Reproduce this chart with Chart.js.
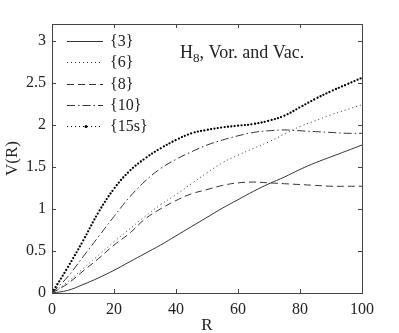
<!DOCTYPE html>
<html>
<head>
<meta charset="utf-8">
<script src="https://cdn.jsdelivr.net/npm/chart.js@4/dist/chart.umd.min.js"></script>
<style>
  html, body { margin: 0; padding: 0; background: #fff; }
  #wrap { width: 399px; height: 333px; }
</style>
</head>
<body>
<div id="wrap"><canvas id="c" width="399" height="333"></canvas></div>
<script>
// ---- data ----
const R      = [0, 5, 10, 15, 20, 25, 30, 35, 40, 45, 50, 55, 60, 65, 70, 75, 80, 85, 90, 95, 100];
const V3     = [0, 0.03, 0.10, 0.18, 0.27, 0.37, 0.47, 0.57, 0.68, 0.79, 0.90, 1.01, 1.11, 1.21, 1.30, 1.38, 1.47, 1.55, 1.62, 1.69, 1.76];
const V6     = [0, 0.13, 0.29, 0.45, 0.61, 0.76, 0.91, 1.05, 1.17, 1.30, 1.43, 1.55, 1.64, 1.72, 1.80, 1.89, 1.98, 2.05, 2.12, 2.18, 2.24];
const V8     = [0, 0.11, 0.26, 0.41, 0.57, 0.71, 0.88, 1.00, 1.10, 1.18, 1.23, 1.28, 1.31, 1.32, 1.31, 1.30, 1.29, 1.28, 1.27, 1.27, 1.27];
const V10    = [0, 0.19, 0.43, 0.67, 0.91, 1.14, 1.33, 1.48, 1.59, 1.68, 1.76, 1.82, 1.87, 1.91, 1.93, 1.94, 1.93, 1.92, 1.91, 1.90, 1.90];
const V15s   = [0, 0.30, 0.62, 0.96, 1.24, 1.45, 1.60, 1.72, 1.82, 1.90, 1.94, 1.97, 1.99, 2.01, 2.05, 2.11, 2.21, 2.31, 2.40, 2.48, 2.56];
const seriesLabels = ['{3}', '{6}', '{8}', '{10}', '{15s}'];
const xTicks = [0, 20, 40, 60, 80, 100];
const yTicks = [0, 0.5, 1, 1.5, 2, 2.5, 3];
const xTitle = 'R';
const yTitle = 'V(R)';
const noteMain = 'H';
const noteSub = '8';
const noteRest = ', Vor. and Vac.';

const FONT = "'Liberation Serif', 'Times New Roman', serif";
const INK = '#222';

function pts(ys) { return R.map((x, i) => ({ x: x, y: ys[i] })); }

const styles = [
  { borderDash: [], borderWidth: 1, cap: 'butt', color: '#333' },
  { borderDash: [1, 3], borderWidth: 1, cap: 'butt', color: '#333' },
  { borderDash: [7, 4], borderWidth: 1, cap: 'butt', color: '#333' },
  { borderDash: [8, 3, 1.5, 3], borderWidth: 1, cap: 'butt', color: '#333' },
  { borderDash: [0, 3.4], borderWidth: 2.3, cap: 'round', color: '#000' }
];
const allSeries = [V3, V6, V8, V10, V15s];

const datasets = allSeries.map((s, i) => ({
  label: seriesLabels[i],
  data: pts(s),
  borderColor: styles[i].color,
  borderWidth: styles[i].borderWidth,
  borderDash: styles[i].borderDash,
  borderCapStyle: styles[i].cap,
  pointRadius: 0,
  fill: false,
  tension: 0.4
}));

const framePlugin = {
  id: 'frame',
  afterDraw(chart) {
    const ctx = chart.ctx;
    const a = chart.chartArea;
    const xs = chart.scales.x, ys = chart.scales.y;
    ctx.save();
    ctx.strokeStyle = '#444';
    ctx.lineWidth = 1;
    ctx.strokeRect(Math.round(a.left) + 0.5, Math.round(a.top) + 0.5,
                   Math.round(a.right - a.left), Math.round(a.bottom - a.top));
    const tl = 4;
    ctx.beginPath();
    xs.ticks.forEach(t => {
      const px = Math.round(xs.getPixelForValue(t.value)) + 0.5;
      ctx.moveTo(px, a.bottom); ctx.lineTo(px, a.bottom - tl);
      ctx.moveTo(px, a.top); ctx.lineTo(px, a.top + tl);
    });
    ys.ticks.forEach(t => {
      const py = Math.round(ys.getPixelForValue(t.value)) + 0.5;
      ctx.moveTo(a.left, py); ctx.lineTo(a.left + tl, py);
      ctx.moveTo(a.right, py); ctx.lineTo(a.right - tl, py);
    });
    ctx.stroke();

    // legend
    ctx.font = '16px ' + FONT;
    ctx.fillStyle = INK;
    ctx.textBaseline = 'middle';
    chart.data.datasets.forEach((ds, i) => {
      const y = Math.round(41 + i * 21.3) + 0.5;
      ctx.save();
      ctx.strokeStyle = ds.borderColor;
      ctx.setLineDash(i === 4 ? [1, 3] : ds.borderDash);
      ctx.lineWidth = 1;
      ctx.lineCap = 'butt';
      ctx.beginPath();
      ctx.moveTo(67, y); ctx.lineTo(103, y);
      ctx.stroke();
      if (i === 4) {
        ctx.setLineDash([]);
        ctx.fillStyle = '#000';
        ctx.beginPath();
        ctx.arc(86, y, 1.5, 0, Math.PI * 2);
        ctx.fill();
      }
      ctx.restore();
      ctx.fillText(ds.label, 110, y);
    });

    // annotation
    ctx.textBaseline = 'alphabetic';
    ctx.font = '18px ' + FONT;
    ctx.fillText(noteMain, 180, 58);
    const wH = ctx.measureText(noteMain).width;
    ctx.font = '13px ' + FONT;
    ctx.fillText(noteSub, 180 + wH, 62);
    const wS = ctx.measureText(noteSub).width;
    ctx.font = '18px ' + FONT;
    ctx.fillText(noteRest, 180 + wH + wS, 58);
    ctx.restore();
  }
};

new Chart(document.getElementById('c'), {
  type: 'line',
  data: { datasets: datasets },
  options: {
    responsive: false,
    animation: false,
    devicePixelRatio: 1,
    layout: { padding: { top: 24, right: 37, left: 0, bottom: 0 } },
    plugins: { legend: { display: false }, tooltip: { enabled: false } },
    scales: {
      x: {
        type: 'linear', min: 0, max: 100,
        grid: { display: false, drawTicks: false }, border: { display: false },
        afterBuildTicks: s => { s.ticks = xTicks.map(v => ({ value: v })); },
        afterFit: s => { s.height = 40; },
        ticks: { padding: 7, color: INK, font: { family: FONT, size: 16 }, maxRotation: 0,
                 callback: v => String(v) },
        title: { display: true, text: xTitle, color: INK, font: { family: FONT, size: 17 },
                 padding: { top: 0, bottom: -3 } }
      },
      y: {
        type: 'linear', min: 0, max: 3.2,
        grid: { display: false, drawTicks: false }, border: { display: false },
        afterBuildTicks: s => { s.ticks = yTicks.map(v => ({ value: v })); },
        afterFit: s => { s.width = 52; },
        ticks: { padding: 6, color: INK, font: { family: FONT, size: 16 },
                 callback: v => String(v) },
        title: { display: true, text: yTitle, color: INK, font: { family: FONT, size: 17 },
                 padding: { top: 2, bottom: 0 } }
      }
    }
  },
  plugins: [framePlugin]
});
</script>
</body>
</html>
